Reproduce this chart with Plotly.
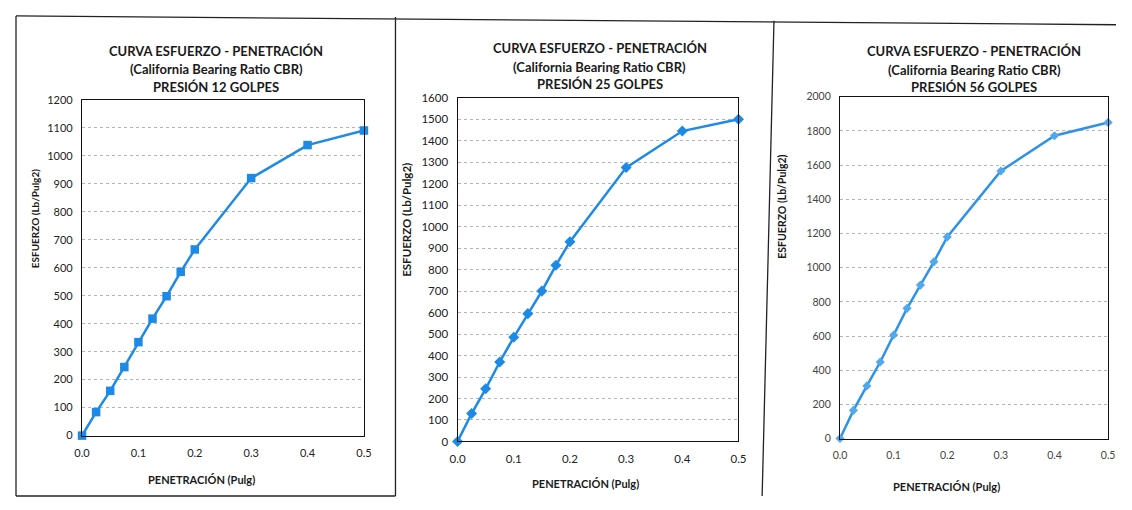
# -*- coding: utf-8 -*-

import plotly.graph_objects as go
from plotly.subplots import make_subplots

# penetracion (pulg) comun a los tres ensayos
penetracion = [0.0, 0.025, 0.05, 0.075, 0.1, 0.125, 0.15, 0.175, 0.2, 0.3, 0.4, 0.5]

# esfuerzo (lb/pulg2) por numero de golpes
esfuerzo_12 = [0, 84, 160, 245, 334, 418, 498, 585, 665, 920, 1038, 1090]
esfuerzo_25 = [0, 130, 245, 370, 485, 595, 700, 820, 930, 1275, 1445, 1500]
esfuerzo_56 = [0, 165, 308, 448, 606, 762, 898, 1034, 1180, 1566, 1772, 1850]

golpes = ['12', '25', '56']
y_max = [1200, 1600, 2000]
y_step = [100, 100, 200]

FONT = 'Lato'
AZUL = '#1c8ae6'
# la pagina html tiene 8px de margen en el body
M = 8
W, H = 1132 - 2 * M, 510 - 2 * M


def px(x):
    return min(max((x - M) / W, 0), 1)


def py(y):
    return min(max(1 - (y - M) / H, 0), 1)


fig = make_subplots(rows=1, cols=3)

series = [esfuerzo_12, esfuerzo_25, esfuerzo_56]
markers = [
    dict(symbol='square', size=8.5, color=AZUL),
    dict(symbol='diamond', size=8.5, color=AZUL),
    dict(symbol='diamond', size=7, color='#52a8ec'),
]
line_colors = [AZUL, AZUL, '#2e93e8']

for i, ys in enumerate(series):
    fig.add_trace(go.Scatter(
        x=penetracion, y=ys,
        mode='lines+markers',
        line=dict(color=line_colors[i], width=2.5),
        marker=markers[i],
        cliponaxis=False,
        showlegend=False,
    ), row=1, col=i + 1)

# posiciones de las areas de trazado (px sobre la imagen)
plot_boxes = [
    (75, 361, 95, 440),
    (456, 741, 93, 446),
    (844, 1116, 92, 443),
]
title_pos = [(211, 45, 63, 82), (600, 42, 61, 79), (980, 45, 64, 82)]
ytitle_pos = [(27, 217), (404, 218), (785, 205)]
ytitle_size = [10, 11.5, 10.5]
tick_size = [11, 11.5, 10.5]
xtitle_pos = [(196, 485), (586, 489), (952, 492)]
tick_colors = ['#222222', '#222222', '#444444']

for i in range(3):
    x0, x1, y0, y1 = plot_boxes[i]
    axn = '' if i == 0 else str(i + 1)
    fig.layout['xaxis' + axn].update(
        domain=[px(x0), px(x1)],
        range=[0, 0.5], dtick=0.1, tickformat='.1f',
        showgrid=False, zeroline=False,
        showline=True, mirror=True, linecolor='#111111', linewidth=1.3,
        ticks='', ticklabelstandoff=7,
        tickfont=dict(family=FONT, size=tick_size[i], color=tick_colors[i]),
    )
    fig.layout['yaxis' + axn].update(
        domain=[py(y1), py(y0)],
        range=[0, y_max[i]], dtick=y_step[i],
        showgrid=True, gridcolor='#aab6c8', griddash='dot', gridwidth=1,
        zeroline=False,
        showline=True, mirror=True, linecolor='#111111', linewidth=1.3,
        ticks='', ticklabelstandoff=6,
        tickfont=dict(family=FONT, size=tick_size[i], color=tick_colors[i]),
    )

    tx, l1, l2, l3 = title_pos[i]
    lines = ['CURVA ESFUERZO - PENETRACIÓN',
             '(California Bearing Ratio CBR)',
             f'PRESIÓN {golpes[i]} GOLPES']
    for txt, yy in zip(lines, (l1, l2, l3)):
        fig.add_annotation(
            x=px(tx), y=py(yy), xref='paper', yref='paper',
            xanchor='center', yanchor='middle',
            text=f'<b>{txt}</b>', showarrow=False,
            font=dict(family=FONT, size=13, color='#1a1a1a'),
        )

    ax_, ay_ = ytitle_pos[i]
    fig.add_annotation(
        x=px(ax_), y=py(ay_), xref='paper', yref='paper',
        xanchor='center', yanchor='middle',
        text='<b>ESFUERZO (Lb/Pulg2)</b>', showarrow=False, textangle=-90,
        font=dict(family=FONT, size=ytitle_size[i], color='#1a1a1a'),
    )
    bx, by = xtitle_pos[i]
    fig.add_annotation(
        x=px(bx), y=py(by), xref='paper', yref='paper',
        xanchor='center', yanchor='middle',
        text='<b>PENETRACIÓN (Pulg)</b>', showarrow=False,
        font=dict(family=FONT, size=11, color='#1a1a1a'),
    )

# marcos del documento escaneado
marcos = [
    ((8, 9), (1132, 18)),
    ((8, 9), (8, 508)),
    ((8, 507), (393, 507)),
    ((393, 10), (393, 510)),
    ((777, 14), (765, 510)),
]
for (xa, ya), (xb, yb) in marcos:
    fig.add_shape(type='line', xref='paper', yref='paper',
                  x0=px(xa), y0=py(ya), x1=px(xb), y1=py(yb),
                  line=dict(color='#222222', width=1.3))

fig.update_layout(
    width=W, height=H,
    margin=dict(t=0, r=0, b=0, l=0),
    paper_bgcolor='white',
    plot_bgcolor='white',
    font=dict(family=FONT),
)

fig.write_html('out.html')
